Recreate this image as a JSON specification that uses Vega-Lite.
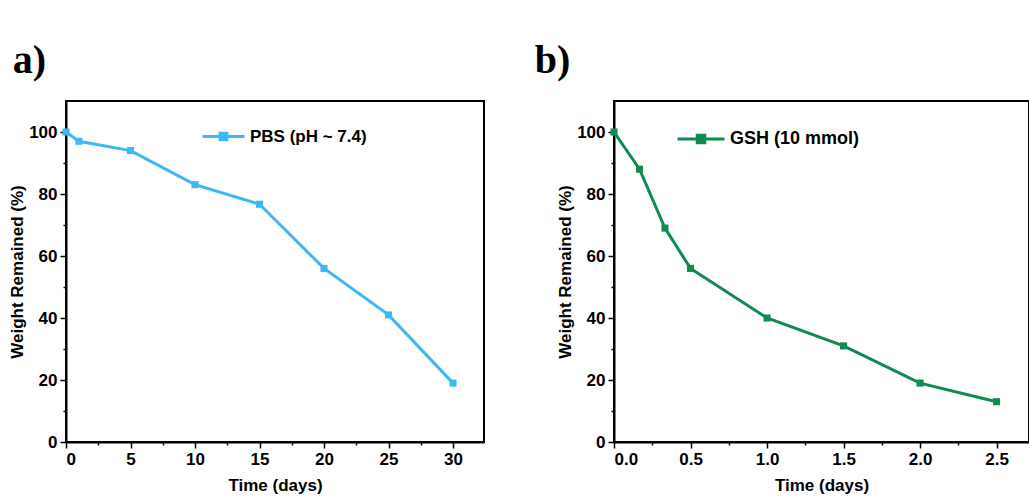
{
  "$schema": "https://vega.github.io/schema/vega-lite/v6.json",
  "background": "white",
  "padding": {"left": 7, "top": 40, "right": 0, "bottom": 4},
  "autosize": {"type": "pad"},
  "spacing": 48,
  "datasets": {
    "pbs": [
      {"t": 0, "w": 100, "s": "PBS (pH ~ 7.4)"},
      {"t": 1, "w": 97, "s": "PBS (pH ~ 7.4)"},
      {"t": 5, "w": 94, "s": "PBS (pH ~ 7.4)"},
      {"t": 10, "w": 83, "s": "PBS (pH ~ 7.4)"},
      {"t": 15, "w": 76.7, "s": "PBS (pH ~ 7.4)"},
      {"t": 20, "w": 56, "s": "PBS (pH ~ 7.4)"},
      {"t": 25, "w": 41, "s": "PBS (pH ~ 7.4)"},
      {"t": 30, "w": 19, "s": "PBS (pH ~ 7.4)"}
    ],
    "gsh": [
      {"t": 0, "w": 100, "s": "GSH (10 mmol)"},
      {"t": 0.167, "w": 88, "s": "GSH (10 mmol)"},
      {"t": 0.333, "w": 69, "s": "GSH (10 mmol)"},
      {"t": 0.5, "w": 56, "s": "GSH (10 mmol)"},
      {"t": 1, "w": 40, "s": "GSH (10 mmol)"},
      {"t": 1.5, "w": 31, "s": "GSH (10 mmol)"},
      {"t": 2, "w": 19, "s": "GSH (10 mmol)"},
      {"t": 2.5, "w": 13, "s": "GSH (10 mmol)"}
    ]
  },
  "config": {
    "font": "Liberation Sans",
    "view": {"stroke": "black", "strokeWidth": 2},
    "axis": {
      "grid": false,
      "domainColor": "black",
      "domainWidth": 2,
      "tickColor": "black",
      "tickWidth": 1.5,
      "labelFont": "Liberation Sans",
      "labelFontSize": 17,
      "labelFontWeight": "bold",
      "labelColor": "black",
      "labelPadding": 3,
      "titleFont": "Liberation Sans",
      "titleFontSize": 17,
      "titleFontWeight": "bold",
      "titleColor": "black"
    },
    "title": {"font": "Liberation Serif", "fontSize": 40, "fontWeight": "bold", "color": "black", "anchor": "start", "frame": "bounds"}
  },
  "hconcat": [
    {
      "width": 418,
      "height": 341,
      "title": {"text": "a)", "offset": 20, "dx": 4},
      "data": {"name": "pbs"},
      "mark": {"type": "line", "color": "#3DB8F5", "strokeWidth": 3, "point": {"shape": "square", "size": 50, "filled": true, "opacity": 1}},
      "encoding": {
        "x": {
          "field": "t", "type": "quantitative",
          "scale": {"domain": [0, 32.4], "nice": false, "zero": false},
          "axis": {
            "title": "Time (days)",
            "titlePadding": 10,
            "values": [0, 2.5, 5, 7.5, 10, 12.5, 15, 17.5, 20, 22.5, 25, 27.5, 30],
            "labelExpr": "datum.value % 5 === 0 ? datum.label : ''",
            "tickSize": {"condition": {"test": "datum.value % 5 !== 0", "value": 3}, "value": 6}
          }
        },
        "y": {
          "field": "w", "type": "quantitative",
          "scale": {"domain": [0, 110], "nice": false},
          "axis": {
            "title": "Weight Remained (%)",
            "titlePadding": 2,
            "values": [0, 10, 20, 30, 40, 50, 60, 70, 80, 90, 100],
            "labelExpr": "datum.value % 20 === 0 ? datum.label : ''",
            "tickSize": {"condition": {"test": "datum.value % 20 !== 0", "value": 3}, "value": 6}
          }
        },
        "color": {
          "field": "s", "type": "nominal",
          "scale": {"range": ["#3DB8F5"]},
          "legend": {
            "orient": "none", "legendX": 135, "legendY": 13, "title": null, "padding": 0,
            "symbolType": "M-1,0H1M-0.16,-0.16H0.16V0.16H-0.16Z",
            "symbolSize": 1764, "symbolStrokeWidth": 3,
            "labelFont": "Liberation Sans", "labelFontSize": 17, "labelFontWeight": "bold", "labelColor": "black", "labelOffset": 4,
            "encode": {"symbols": {"update": {"fill": {"value": "#3DB8F5"}, "stroke": {"value": "#3DB8F5"}, "opacity": {"value": 1}}}}
          }
        }
      }
    },
    {
      "width": 415,
      "height": 341,
      "title": {"text": "b)", "offset": 20, "dx": -22},
      "data": {"name": "gsh"},
      "mark": {"type": "line", "color": "#0F8A50", "strokeWidth": 3, "point": {"shape": "square", "size": 50, "filled": true, "opacity": 1}},
      "encoding": {
        "x": {
          "field": "t", "type": "quantitative",
          "scale": {"domain": [0, 2.712], "nice": false, "zero": false},
          "axis": {
            "title": "Time (days)",
            "titlePadding": 10,
            "format": ".1f",
            "values": [0, 0.25, 0.5, 0.75, 1, 1.25, 1.5, 1.75, 2, 2.25, 2.5],
            "labelExpr": "datum.value % 0.5 === 0 ? datum.label : ''",
            "tickSize": {"condition": {"test": "datum.value % 0.5 !== 0", "value": 3}, "value": 6}
          }
        },
        "y": {
          "field": "w", "type": "quantitative",
          "scale": {"domain": [0, 110], "nice": false},
          "axis": {
            "title": "Weight Remained (%)",
            "titlePadding": 2,
            "values": [0, 10, 20, 30, 40, 50, 60, 70, 80, 90, 100],
            "labelExpr": "datum.value % 20 === 0 ? datum.label : ''",
            "tickSize": {"condition": {"test": "datum.value % 20 !== 0", "value": 3}, "value": 6}
          }
        },
        "color": {
          "field": "s", "type": "nominal",
          "scale": {"range": ["#0F8A50"]},
          "legend": {
            "orient": "none", "legendX": 62, "legendY": 13, "title": null, "padding": 0,
            "symbolType": "M-1,0H1M-0.16,-0.16H0.16V0.16H-0.16Z",
            "symbolSize": 2209, "symbolStrokeWidth": 3,
            "labelFont": "Liberation Sans", "labelFontSize": 18, "labelFontWeight": "bold", "labelColor": "black", "labelOffset": 4,
            "encode": {"symbols": {"update": {"fill": {"value": "#0F8A50"}, "stroke": {"value": "#0F8A50"}, "opacity": {"value": 1}}}}
          }
        }
      }
    }
  ],
  "resolve": {"scale": {"color": "independent"}, "legend": {"color": "independent"}}
}
